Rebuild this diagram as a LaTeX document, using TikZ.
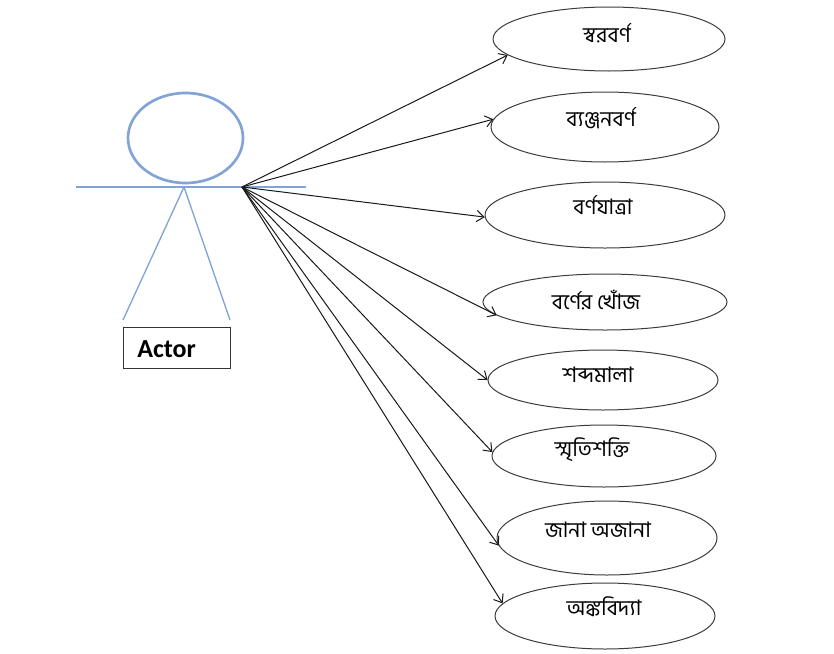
\documentclass[tikz,border=0pt]{standalone}
\usepackage{fontspec}
\usetikzlibrary{shapes.geometric,arrows.meta}
\newfontfamily\bnfont[Script=Bengali]{Hind Siliguri}
\newfontfamily\actorfont{Carlito}
\definecolor{actorblue}{RGB}{130,163,214}
\definecolor{ellgray}{RGB}{60,60,60}
\begin{document}
\begin{tikzpicture}[x=0.75pt,y=-0.75pt,
  uc/.style={draw=ellgray,line width=0.75pt,ellipse,inner sep=0pt},
  lbl/.style={font=\bnfont\fontsize{16}{18}\selectfont,inner sep=0pt},
  assoc/.style={line width=0.75pt,black!90,-{Straight Barb[length=5.5pt,width=8.5pt]}},
  stick/.style={draw=actorblue,line width=1pt}]
\useasboundingbox (0,0) rectangle (834,653);
% actor
\node[draw=actorblue,line width=2pt,ellipse,minimum width=115*0.75pt,minimum height=90*0.75pt,inner sep=0pt] (head) at (185.5,138) {};
\coordinate (armL) at (76,187);
\coordinate (armR) at (306,187);
\coordinate (neck) at (184,187);
\coordinate (footL) at (123,320);
\coordinate (footR) at (230,320);
\coordinate (hub) at (242,187);
\draw[stick] (armL) -- (armR);
\draw[stick] (neck) -- (footL);
\draw[stick] (neck) -- (footR);
\node[draw=black!80,line width=0.8pt,minimum width=107*0.75pt,minimum height=41*0.75pt,inner sep=0pt,anchor=north west] (actor) at (123,327) {};
\node[font=\actorfont\bfseries\fontsize{19.5}{22}\selectfont,anchor=west,inner sep=0pt] (actortxt) at (137,349) {Actor};
% use cases
\node[uc,minimum width=232*0.75pt,minimum height=64*0.75pt] (e1) at (609,39) {};
\node[uc,minimum width=228*0.75pt,minimum height=70*0.75pt] (e2) at (605,127) {};
\node[uc,minimum width=240*0.75pt,minimum height=66*0.75pt] (e3) at (605,215) {};
\node[uc,minimum width=244*0.75pt,minimum height=56*0.75pt] (e4) at (605,302) {};
\node[uc,minimum width=230*0.75pt,minimum height=60*0.75pt] (e5) at (603,380) {};
\node[uc,minimum width=224*0.75pt,minimum height=62*0.75pt] (e6) at (604,456) {};
\node[uc,minimum width=220*0.75pt,minimum height=74*0.75pt] (e7) at (607,538) {};
\node[uc,minimum width=220*0.75pt,minimum height=66*0.75pt] (e8) at (605,616) {};
\node[lbl] (t1) at (607,33) {স্বরবর্ণ};
\node[lbl] (t2) at (601,118) {ব্যঞ্জনবর্ণ};
\node[lbl] (t3) at (603,205) {বর্ণযাত্রা};
\node[lbl] (t4) at (596,300) {বর্ণের খোঁজ};
\node[lbl] (t5) at (598,375) {শব্দমালা};
\node[lbl] (t6) at (592,450) {স্মৃতিশক্তি};
\node[lbl] (t7) at (598,530) {জানা অজানা};
\node[lbl] (t8) at (604,607) {অঙ্কবিদ্যা};
% associations
\draw[assoc] (hub) -- (e1.189);
\draw[assoc] (hub) -- (e2.176);
\draw[assoc] (hub) -- (e3.181);
\draw[assoc] (hub) -- (e4.187);
\draw[assoc] (hub) -- (e5.180);
\draw[assoc] (hub) -- (e6.178);
\draw[assoc] (hub) -- (e7.184);
\draw[assoc] (hub) -- (e8.173);
\end{tikzpicture}
\end{document}
